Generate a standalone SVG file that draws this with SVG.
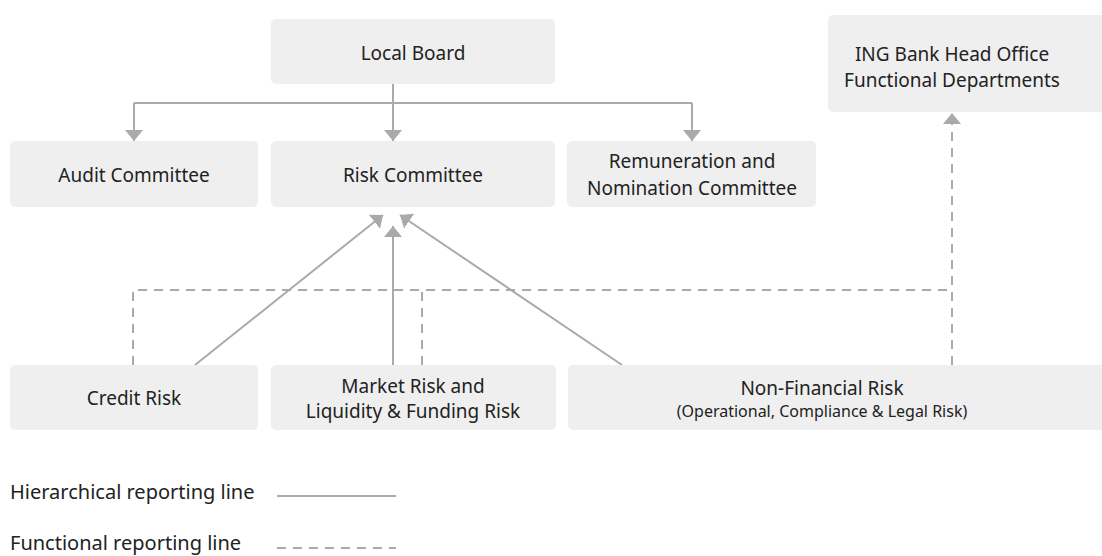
<svg xmlns="http://www.w3.org/2000/svg" width="1102" height="556" viewBox="0 0 1102 556">
  <style>
    .box { fill: #efefef; }
    .t { font-family: "Noto Sans", "Open Sans", sans-serif; font-size: 19px; fill: #222; text-anchor: middle; }
    .ts { font-size: 16px; }
    .lg { text-anchor: start; font-size: 20px; }
    .solid { fill: none; stroke: #aaaaaa; stroke-width: 2; }
    .dash { fill: none; stroke: #aaaaaa; stroke-width: 2; stroke-dasharray: 9 7; }
  </style>
  <defs>
    <marker id="arrL" viewBox="0 0 10 10" refX="10" refY="5" markerWidth="11" markerHeight="18" markerUnits="userSpaceOnUse" orient="auto" preserveAspectRatio="none">
      <path d="M0,0 L10,5 L0,10 z" fill="#aaaaaa"/>
    </marker>
  </defs>

  <rect width="1102" height="556" fill="#ffffff"/>

  <g id="connectors">
    <!-- Local Board to committees -->
    <path class="solid" d="M393,84 V103"/>
    <path class="solid" d="M134,103 H692"/>
    <path class="solid" d="M134,103 V141" marker-end="url(#arrL)"/>
    <path class="solid" d="M393,103 V141" marker-end="url(#arrL)"/>
    <path class="solid" d="M692,103 V141" marker-end="url(#arrL)"/>
    <!-- Risk functions to Risk Committee -->
    <path class="solid" d="M195,365 L383,215" marker-end="url(#arrL)"/>
    <path class="solid" d="M393,365 V226" marker-end="url(#arrL)"/>
    <path class="solid" d="M622,365 L400,215" marker-end="url(#arrL)"/>
    <!-- Functional lines to head office -->
    <path class="dash" d="M133,365 V290 H952"/>
    <path class="dash" d="M422,365 V290"/>
    <path class="dash" d="M952,365 V113" marker-end="url(#arrL)"/>
  </g>

  <g id="local-board">
    <rect class="box" x="271" y="19" width="284" height="65" rx="5"/>
    <text class="t" x="413" y="60">Local Board</text>
  </g>
  <g id="head-office">
    <rect class="box" x="828" y="15" width="290" height="97" rx="5"/>
    <text class="t" x="952" y="61">ING Bank Head Office</text>
    <text class="t" x="952" y="87">Functional Departments</text>
  </g>
  <g id="audit-committee">
    <rect class="box" x="10" y="141" width="248" height="66" rx="5"/>
    <text class="t" x="134" y="182">Audit Committee</text>
  </g>
  <g id="risk-committee">
    <rect class="box" x="271" y="141" width="284" height="66" rx="5"/>
    <text class="t" x="413" y="182">Risk Committee</text>
  </g>
  <g id="remuneration-committee">
    <rect class="box" x="567" y="141" width="249" height="66" rx="5"/>
    <text class="t" x="692" y="168">Remuneration and</text>
    <text class="t" x="692" y="195">Nomination Committee</text>
  </g>
  <g id="credit-risk">
    <rect class="box" x="10" y="365" width="248" height="65" rx="5"/>
    <text class="t" x="134" y="405">Credit Risk</text>
  </g>
  <g id="market-risk">
    <rect class="box" x="271" y="365" width="285" height="65" rx="5"/>
    <text class="t" x="413" y="393">Market Risk and</text>
    <text class="t" x="413" y="418">Liquidity &amp; Funding Risk</text>
  </g>
  <g id="non-financial-risk">
    <rect class="box" x="568" y="365" width="550" height="65" rx="5"/>
    <text class="t" x="822" y="395">Non-Financial Risk</text>
    <text class="t ts" x="822" y="417">(Operational, Compliance &amp; Legal Risk)</text>
  </g>

  <g id="legend">
    <text class="t lg" x="10" y="499">Hierarchical reporting line</text>
    <path class="solid" d="M277,496 H396"/>
    <text class="t lg" x="10" y="550">Functional reporting line</text>
    <path class="dash" d="M277,548 H396" stroke-dasharray="10 9"/>
  </g>
</svg>
